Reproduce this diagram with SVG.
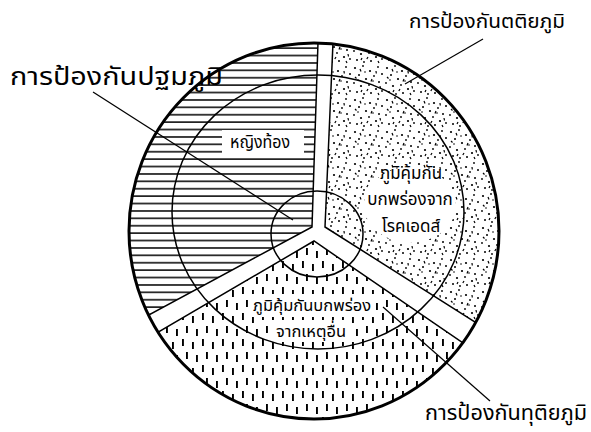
<svg xmlns="http://www.w3.org/2000/svg" width="591" height="432" viewBox="0 0 591 432">
<style>
.lbl{font-family:"Noto Sans Thai","Tahoma","Noto Sans","DejaVu Sans",sans-serif;fill:#000}
.in{font-size:17px}
.edge{stroke:#000;stroke-width:1.5;stroke-linejoin:miter}
.ring{fill:none;stroke:#000}
.lead{stroke:#000;stroke-width:1.2;fill:none}
</style>
<defs>
<clipPath id="disc"><ellipse cx="314" cy="231" rx="185" ry="188"/></clipPath>
<pattern id="hlines" patternUnits="userSpaceOnUse" width="12" height="7.4">
<rect x="0" y="3" width="12" height="1.5" fill="#000"/>
</pattern>
<pattern id="dots" patternUnits="userSpaceOnUse" width="32" height="32">
<g fill="#000">
<circle cx="3" cy="4" r="1.1"/><circle cx="11" cy="2" r="0.9"/><circle cx="18" cy="7" r="1.1"/>
<circle cx="26" cy="3" r="0.9"/><circle cx="30" cy="10" r="1"/><circle cx="7" cy="11" r="1"/>
<circle cx="14" cy="15" r="1.1"/><circle cx="22" cy="12" r="0.9"/><circle cx="27" cy="18" r="1"/>
<circle cx="2" cy="19" r="0.9"/><circle cx="9" cy="22" r="1.1"/><circle cx="17" cy="21" r="0.9"/>
<circle cx="24" cy="25" r="1.1"/><circle cx="30" cy="27" r="0.9"/><circle cx="5" cy="28" r="1"/>
<circle cx="12" cy="30" r="0.9"/><circle cx="19" cy="29" r="1"/><circle cx="13" cy="8" r="0.8"/>
<circle cx="21" cy="17" r="0.8"/><circle cx="6" cy="16" r="0.8"/>
</g>
<g stroke="#000" stroke-width="1.2">
<path d="M8 5l1 2.5M20 15l-1 2.5M28 22l0.5 2.5M16 25l-1.2 2M3 13l1.5 1.5M26 29l1 2M24 7l0.3 2.5M10 26l-1 2"/>
</g>
</pattern>
<pattern id="dashes" patternUnits="userSpaceOnUse" width="20" height="26">
<g fill="#000">
<rect x="2" y="1" width="1.9" height="7"/>
<rect x="12" y="4" width="1.9" height="7"/>
<rect x="6" y="14" width="1.9" height="7"/>
<rect x="16" y="17" width="1.9" height="7"/>
</g>
</pattern>
</defs>
<rect width="591" height="432" fill="#fff"/>
<g id="sectors" clip-path="url(#disc)">
<g id="sector-primary"><path class="edge" fill="url(#hlines)" d="M312,227 L321,-50 L-50,-50 L-50,422 Z"/></g>
<g id="sector-aids"><path class="edge" fill="url(#dots)" d="M325,227 L337,-50 L650,-50 L650,433 Z"/></g>
<g id="sector-other"><path class="edge" fill="url(#dashes)" d="M314,241 L-50,454 L-50,650 L650,650 L650,471 Z"/></g>
</g>
<g id="text-clearings" fill="#fff">
<rect x="222" y="130" width="82" height="25"/>
<ellipse cx="410" cy="205" rx="46" ry="38"/>
<rect x="252" y="294" width="122" height="23"/>
<rect x="272" y="320" width="78" height="22"/>
</g>
<g id="rings">
<ellipse class="ring" cx="318" cy="212" rx="146" ry="137" stroke-width="1.5"/>
<ellipse class="ring" cx="317" cy="234" rx="46" ry="43" stroke-width="1.5"/>
<ellipse class="ring" cx="314" cy="231" rx="185" ry="188" stroke-width="3"/>
</g>
<g id="connectors">
<line class="lead" x1="93" y1="92" x2="293" y2="220"/>
<line class="lead" x1="483" y1="39" x2="405" y2="84"/>
<line class="lead" x1="383" y1="307" x2="490" y2="401"/>
</g>
<g id="label-primary"><text class="lbl" font-size="24" x="10" y="85" textLength="213" lengthAdjust="spacingAndGlyphs">การป้องกันปฐมภูมิ</text></g>
<g id="label-tertiary"><text class="lbl" font-size="20" x="409" y="28" textLength="156" lengthAdjust="spacingAndGlyphs">การป้องกันตติยภูมิ</text></g>
<g id="label-secondary"><text class="lbl" font-size="22" x="425" y="420" textLength="162" lengthAdjust="spacingAndGlyphs">การป้องกันทุติยภูมิ</text></g>
<g id="node-pregnant"><text class="lbl in" x="230" y="148" textLength="60" lengthAdjust="spacingAndGlyphs">หญิงท้อง</text></g>
<g id="node-aids" text-anchor="middle">
<text class="lbl in" x="411" y="179">ภูมิคุ้มกัน</text>
<text class="lbl in" x="410" y="205">บกพร่องจาก</text>
<text class="lbl in" x="411" y="232">โรคเอดส์</text>
</g>
<g id="node-other" text-anchor="middle">
<text class="lbl" font-size="16.5" x="312" y="311">ภูมิคุ้มกันบกพร่อง</text>
<text class="lbl" font-size="16.5" x="311" y="337">จากเหตุอื่น</text>
</g>
</svg>
